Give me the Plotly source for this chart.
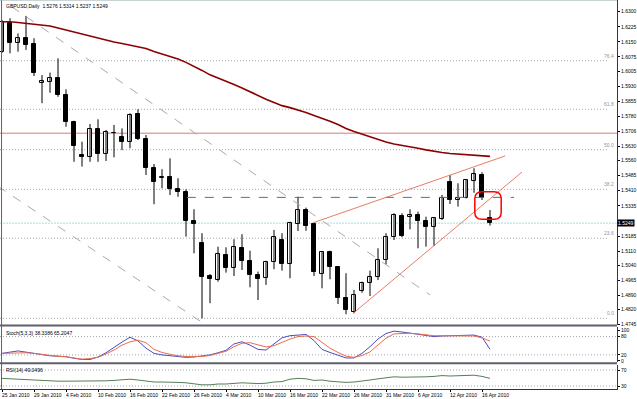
import plotly.graph_objects as go

# ---------------- data ----------------
title_text = "GBPUSD,Daily  1.5276 1.5314 1.5237 1.5249"

date_labels = ["25 Jan 2010", "29 Jan 2010", "4 Feb 2010", "10 Feb 2010", "16 Feb 2010",
               "22 Feb 2010", "26 Feb 2010", "4 Mar 2010", "10 Mar 2010", "16 Mar 2010",
               "22 Mar 2010", "26 Mar 2010", "31 Mar 2010", "6 Apr 2010", "12 Apr 2010",
               "16 Apr 2010"]
date_bars = [0, 4, 8, 12, 16, 20, 24, 28, 32, 36, 40, 44, 48, 52, 56, 60]

opens = [1.6101, 1.6242, 1.6143, 1.6168, 1.6138, 1.5944, 1.5952, 1.5969, 1.5886, 1.5750,
         1.5588, 1.5579, 1.5717, 1.5591, 1.5696, 1.5679, 1.5654, 1.5790, 1.5667, 1.5525,
         1.5473, 1.5477, 1.5417, 1.5405, 1.5260, 1.5152, 1.4986, 1.4966, 1.5091, 1.5028,
         1.5124, 1.5061, 1.4991, 1.4975, 1.5054, 1.5165, 1.5046, 1.5245, 1.5314, 1.5243,
         1.4996, 1.5104, 1.5033, 1.4875, 1.4809, 1.4912, 1.4953, 1.4983, 1.5066, 1.5179,
         1.5285, 1.5278, 1.5289, 1.5260, 1.5231, 1.5270, 1.5452, 1.5364, 1.5375, 1.5460,
         1.5488, 1.5276]
highs = [1.6259, 1.6267, 1.6192, 1.6279, 1.6168, 1.5985, 1.5997, 1.6068, 1.5914, 1.5758,
         1.5654, 1.5742, 1.5765, 1.5712, 1.5737, 1.5720, 1.5795, 1.5815, 1.5687, 1.5543,
         1.5517, 1.5571, 1.5472, 1.5417, 1.5318, 1.5199, 1.4996, 1.5132, 1.5129, 1.5169,
         1.5194, 1.5112, 1.5008, 1.5062, 1.5215, 1.5199, 1.5256, 1.5380, 1.5326, 1.5251,
         1.5107, 1.5112, 1.5036, 1.5000, 1.4917, 1.4958, 1.5013, 1.5124, 1.5199, 1.5298,
         1.5298, 1.5318, 1.5306, 1.5281, 1.5278, 1.5389, 1.5488, 1.5447, 1.5468, 1.5522,
         1.5502, 1.5314]
lows = [1.6095, 1.6093, 1.6101, 1.6110, 1.5980, 1.5845, 1.5897, 1.5877, 1.5728, 1.5554,
        1.5530, 1.5554, 1.5554, 1.5558, 1.5576, 1.5612, 1.5621, 1.5662, 1.5488, 1.5343,
        1.5422, 1.5389, 1.5380, 1.5182, 1.5099, 1.4776, 1.4851, 1.4958, 1.5003, 1.4986,
        1.5016, 1.4930, 1.4867, 1.4942, 1.5020, 1.5013, 1.4975, 1.5210, 1.5211, 1.4986,
        1.4925, 1.4970, 1.4847, 1.4796, 1.4801, 1.4903, 1.4887, 1.4966, 1.5044, 1.5165,
        1.5179, 1.5218, 1.5124, 1.5132, 1.5135, 1.5265, 1.5344, 1.5331, 1.5372, 1.5400,
        1.5364, 1.5237]
closes = [1.6250, 1.6143, 1.6168, 1.6134, 1.5997, 1.5957, 1.5969, 1.5886, 1.5753, 1.5632,
          1.5579, 1.5715, 1.5591, 1.5700, 1.5699, 1.5654, 1.5786, 1.5667, 1.5525, 1.5455,
          1.5476, 1.5417, 1.5402, 1.5260, 1.5243, 1.4983, 1.4970, 1.5094, 1.5025, 1.5129,
          1.5061, 1.4991, 1.4970, 1.5054, 1.5182, 1.5044, 1.5248, 1.5314, 1.5236, 1.5008,
          1.5104, 1.5033, 1.4875, 1.4817, 1.4892, 1.4953, 1.4983, 1.5066, 1.5179, 1.5289,
          1.5185, 1.5289, 1.5260, 1.5231, 1.5273, 1.5375, 1.5364, 1.5375, 1.5463, 1.5493,
          1.5372, 1.5249]

moving_avg = [1.6250, 1.6250, 1.6246, 1.6242, 1.6237, 1.6232, 1.6229, 1.6219, 1.6209, 1.6197,
              1.6188, 1.6177, 1.6169, 1.6159, 1.6149, 1.6142, 1.6134, 1.6127, 1.6117, 1.6102,
              1.6090, 1.6077, 1.6065, 1.6048, 1.6029, 1.6008, 1.5986, 1.5971, 1.5956, 1.5938,
              1.5921, 1.5901, 1.5881, 1.5865, 1.5849, 1.5833, 1.5823, 1.5812, 1.5799, 1.5784,
              1.5771, 1.5755, 1.5739, 1.5719, 1.5704, 1.5691, 1.5676, 1.5665, 1.5652, 1.5642,
              1.5636, 1.5628, 1.5621, 1.5613, 1.5605, 1.5600, 1.5595, 1.5592, 1.5590, 1.5588,
              1.5585, 1.5581]

stoch_main = [25, 30, 33, 29, 25, 21, 17, 16, 14, 9, 5, 5, 13, 27, 45, 62, 78, 66, 42, 25,
              20, 18, 15, 12, 13, 16, 20, 27, 35, 56, 63, 52, 38, 36, 55, 76, 83, 84, 87, 67,
              38, 28, 18, 10, 10, 25, 47, 72, 90, 98, 95, 91, 88, 84, 80, 82, 83, 82, 83, 85,
              78, 38.3386]
stoch_signal = [25, 26, 28, 27, 25, 21, 17, 15, 14, 10, 6, 8, 12, 23, 36, 52, 63, 68, 60, 38,
                28, 22, 17, 15, 14, 15, 18, 25, 32, 47, 58, 60, 52, 46, 50, 62, 72, 80, 82, 80,
                60, 42, 28, 16, 12, 18, 30, 52, 75, 89, 91, 91, 89, 86, 83, 83, 83, 83, 82, 82,
                76, 65.2047]
rsi = [49, 48, 47, 46, 44, 44, 43, 42, 42, 42, 42, 42, 43, 43, 44, 45, 47, 45, 42, 40,
       40, 40, 39, 38, 36, 33, 33, 35, 35, 37, 38, 37, 36, 37, 40, 41, 47, 49, 48, 44,
       45, 42, 40, 39, 40, 42, 45, 48, 51, 53, 52, 52, 52, 53, 54, 56, 55, 56, 57, 57,
       54, 49.0496]

price_ticks = [1.6300, 1.6225, 1.6150, 1.6075, 1.6005, 1.5930, 1.5855, 1.5780, 1.5706, 1.5630,
               1.5560, 1.5485, 1.5410, 1.5335, 1.5185, 1.5110, 1.5040, 1.4965, 1.4890, 1.4820,
               1.4745]
fib_levels = [1.6056, 1.5815, 1.5614, 1.5417, 1.5174, 1.4776]
fib_names = ["76.4", "61.8", "50.0", "38.2", "23.6", "0.0"]
last_price = 1.5249
red_level = 1.5696
dashed_level = 1.5377
dashed_level_bars = [23.1, 64.0]
down_line_1 = ([1.2, 53.5], [1.6325, 1.4892])
down_line_2 = ([-0.5, 25.6], [1.5432, 1.4740])
wedge_top = ([38.9, 62.9], [1.5251, 1.5583])
wedge_bottom = ([43.9, 65.0], [1.4801, 1.5503])
circle_box = (59.1, 62.4, 1.5268, 1.5405)  # x0, x1, y_low, y_high
stoch_levels = [80, 20]
rsi_levels = [70, 30]

# ---------------- figure ----------------
FONT = "Liberation Sans"
fs = 5
n = len(opens)
xs = list(range(n))

fig = go.Figure()

# wicks
wx, wy = [], []
for i in xs:
    wx += [i, i, None]
    wy += [lows[i], highs[i], None]
fig.add_trace(go.Scatter(x=wx, y=wy, mode="lines", line=dict(color="black", width=1),
                         hoverinfo="skip", showlegend=False, xaxis="x", yaxis="y"))
# bodies
base = [min(o, c) for o, c in zip(opens, closes)]
height = [max(abs(c - o), 0.00003) for o, c in zip(opens, closes)]
fills = ["white" if c >= o else "black" for o, c in zip(opens, closes)]
fig.add_trace(go.Bar(x=xs, y=height, base=base, width=0.62,
                     marker=dict(color=fills, line=dict(color="black", width=1)),
                     showlegend=False, xaxis="x", yaxis="y"))

# moving average
fig.add_trace(go.Scatter(x=xs, y=moving_avg, mode="lines", line=dict(color="#8b0000", width=1.6),
                         showlegend=False, xaxis="x", yaxis="y"))

# trend lines
grey_line = dict(color="rgb(175,165,175)", width=1, dash="dash")
for lx, ly in (down_line_1, down_line_2):
    fig.add_trace(go.Scatter(x=lx, y=ly, mode="lines", line=grey_line, showlegend=False,
                             xaxis="x", yaxis="y"))
fig.add_trace(go.Scatter(x=dashed_level_bars, y=[dashed_level, dashed_level], mode="lines",
                         line=dict(color="rgb(70,115,145)", width=1, dash="dash"),
                         showlegend=False, xaxis="x", yaxis="y"))
for lx, ly in (wedge_top, wedge_bottom):
    fig.add_trace(go.Scatter(x=lx, y=ly, mode="lines",
                             line=dict(color="rgb(232,125,100)", width=1),
                             showlegend=False, xaxis="x", yaxis="y"))

# stochastic
fig.add_trace(go.Scatter(x=xs, y=stoch_main, mode="lines", line=dict(color="rgb(75,75,195)", width=1),
                         showlegend=False, xaxis="x", yaxis="y2"))
fig.add_trace(go.Scatter(x=xs, y=stoch_signal, mode="lines", line=dict(color="rgb(232,110,80)", width=1),
                         showlegend=False, xaxis="x", yaxis="y2"))
# rsi
fig.add_trace(go.Scatter(x=xs, y=rsi, mode="lines", line=dict(color="rgb(85,125,85)", width=1),
                         showlegend=False, xaxis="x", yaxis="y3"))

shapes = []
dot = dict(color="rgb(160,168,172)", width=1, dash="1px,2px")
for lv in fib_levels:
    shapes.append(dict(type="line", xref="paper", yref="y", x0=0, x1=0.985, y0=lv, y1=lv, line=dot, layer="below"))
shapes.append(dict(type="line", xref="paper", yref="y", x0=0, x1=1, y0=red_level, y1=red_level,
                   line=dict(color="rgb(225,120,120)", width=1), layer="below"))
shapes.append(dict(type="line", xref="paper", yref="y", x0=0, x1=1, y0=last_price, y1=last_price,
                   line=dict(color="rgb(165,220,220)", width=1, dash="2px,1px"), layer="below"))
for lv in stoch_levels:
    shapes.append(dict(type="line", xref="paper", yref="y2", x0=0, x1=1, y0=lv, y1=lv, line=dot, layer="below"))
for lv in rsi_levels:
    shapes.append(dict(type="line", xref="paper", yref="y3", x0=0, x1=1, y0=lv, y1=lv, line=dot, layer="below"))

# rounded rectangle
x0, x1, y0, y1 = circle_box
rx, ry = 0.9, 0.0035
path = (f"M {x0+rx},{y1} L {x1-rx},{y1} Q {x1},{y1} {x1},{y1-ry} L {x1},{y0+ry} "
        f"Q {x1},{y0} {x1-rx},{y0} L {x0+rx},{y0} Q {x0},{y0} {x0},{y0+ry} "
        f"L {x0},{y1-ry} Q {x0},{y1} {x0+rx},{y1} Z")
shapes.append(dict(type="path", xref="x", yref="y", path=path, line=dict(color="red", width=1.5)))

# panel separators and frame
H = 389.0
def py(p):
    return (H - p) / H
for p in (325.5, 363.3):
    shapes.append(dict(type="line", xref="paper", yref="paper", x0=0, x1=1, y0=py(p), y1=py(p),
                       line=dict(color="rgb(95,95,110)", width=2)))
shapes.append(dict(type="line", xref="paper", yref="paper", x0=0.0025, x1=0.0025, y0=0, y1=1,
                   line=dict(color="rgb(95,95,110)", width=1)))
shapes.append(dict(type="line", xref="paper", yref="paper", x0=0, x1=1, y0=1, y1=1,
                   line=dict(color="rgb(150,170,170)", width=1)))

annotations = []
annotations.append(dict(text=title_text, xref="paper", yref="paper", x=0.006, y=0.997,
                        xanchor="left", yanchor="top", showarrow=False,
                        font=dict(family=FONT, size=fs, color="black")))
annotations.append(dict(text="Stoch(5,3,3) 38.3386 65.2047", xref="paper", yref="y2", x=0.006, y=108,
                        xanchor="left", yanchor="top", showarrow=False,
                        font=dict(family=FONT, size=fs, color="black")))
annotations.append(dict(text="RSI(14) 49.0496", xref="paper", yref="y3", x=0.006, y=82,
                        xanchor="left", yanchor="top", showarrow=False,
                        font=dict(family=FONT, size=fs, color="black")))
for lv, nm in zip(fib_levels, fib_names):
    annotations.append(dict(text=nm, xref="paper", yref="y", x=0.998, y=lv, xanchor="right",
                            yanchor="bottom", showarrow=False,
                            font=dict(family=FONT, size=fs, color="rgb(150,150,150)")))
annotations.append(dict(text=f"{last_price:.4f}", xref="paper", yref="y", x=1.0, y=last_price,
                        xanchor="left", yanchor="middle", showarrow=False, bgcolor="black",
                        borderpad=0, font=dict(family=FONT, size=fs, color="white")))
for b, lab in zip(date_bars, date_labels):
    annotations.append(dict(text=lab, xref="x", yref="paper", x=b - 0.2, y=0, xanchor="left",
                            yanchor="top", yshift=-1, showarrow=False,
                            font=dict(family=FONT, size=fs, color="black")))

axis_common = dict(side="right", showgrid=False, zeroline=False, showline=True,
                   linecolor="rgb(60,50,70)", linewidth=1, ticks="outside", ticklen=2,
                   tickcolor="black", tickfont=dict(family=FONT, size=fs, color="black"),
                   anchor="x", fixedrange=True)

fig.update_layout(
    width=637, height=399,
    margin=dict(l=0, r=20, t=0, b=10),
    paper_bgcolor="white", plot_bgcolor="white",
    barmode="overlay", bargap=0,
    showlegend=False,
    xaxis=dict(range=[-0.25, 76.875], showgrid=False, zeroline=False, showline=True,
               linecolor="rgb(60,50,70)", ticks="outside", ticklen=2, tickcolor="black",
               tickvals=date_bars, showticklabels=False, anchor="y3", fixedrange=True),
    yaxis=dict(domain=[py(325), 1], range=[1.47427, 1.6358], tickvals=price_ticks,
               ticktext=[f"{v:.4f}" for v in price_ticks], **axis_common),
    yaxis2=dict(domain=[py(362), py(327)], range=[-3.3, 111.5], tickvals=[100, 80, 20, 0],
                ticktext=["100", "80", "20", "0"], **axis_common),
    yaxis3=dict(domain=[0, py(364.5)], range=[22.5, 83.75], tickvals=[70, 30],
                ticktext=["70", "30"], **axis_common),
    shapes=shapes,
    annotations=annotations,
)

fig.write_html("out.html", config={"displayModeBar": False},
               post_script="document.body.style.margin='0px';document.body.style.overflow='hidden';")
